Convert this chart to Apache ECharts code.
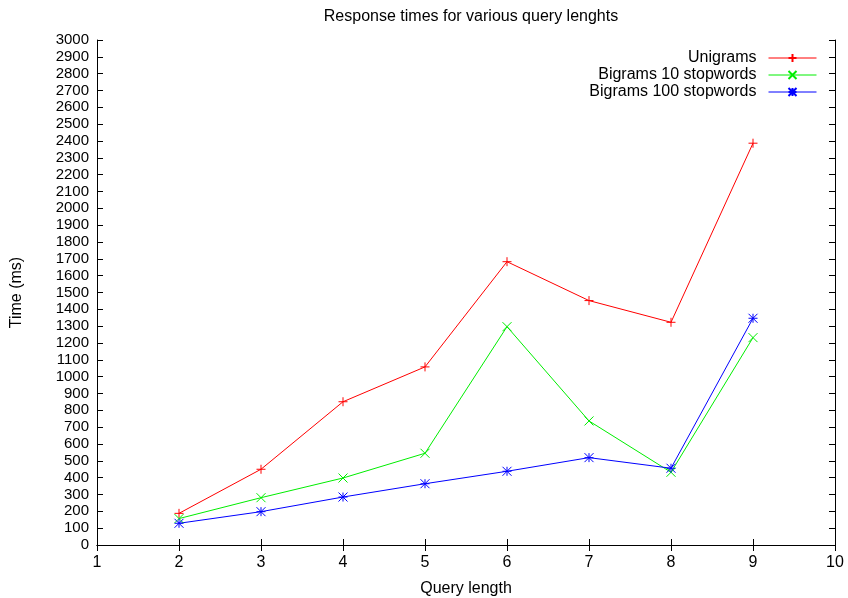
<!DOCTYPE html>
<html>
<head>
<meta charset="utf-8">
<script src="https://cdn.jsdelivr.net/npm/echarts@6/dist/echarts.min.js"></script>
<style>
  html, body { margin: 0; padding: 0; background: #fff; }
  #main { width: 848px; height: 598px; }
</style>
</head>
<body>
<div id="main"></div>
<script>
// query lengths and response times (ms)
const queryLength = [2, 3, 4, 5, 6, 7, 8, 9];
const unigrams = [188, 450, 851, 1058, 1683, 1452, 1323, 2387];
const bigrams10 = [157, 281, 398, 545, 1297, 737, 432, 1232];
const bigrams100 = [129, 198, 285, 364, 438, 519, 456, 1347];
const seriesNames = ['Unigrams', 'Bigrams 10 stopwords', 'Bigrams 100 stopwords'];

const FONT = 'Liberation Sans, Arial, sans-serif';

// gnuplot point types: +, x, *
const plusPath = 'path://M0,5L10,5M5,0L5,10';
const crossPath = 'path://M0,0L10,10M0,10L10,0';
const starPath = 'path://M0,5L10,5M5,0L5,10M0,0L10,10M0,10L10,0';

function pairs(ys) {
    return queryLength.map((x, i) => [x, ys[i]]);
}

function makeSeries(name, ys, color, symbol) {
    return {
        name: name,
        type: 'line',
        data: pairs(ys),
        symbol: symbol,
        symbolSize: 9,
        showAllSymbol: true,
        lineStyle: { color: color, width: 1 },
        itemStyle: { color: 'none', borderColor: color, borderWidth: 1 },
        emphasis: { disabled: true },
        animation: false
    };
}

const chart = echarts.init(document.getElementById('main'), null, { renderer: 'canvas' });

const tickStyle = { show: true, inside: true, length: 6, lineStyle: { color: '#000', width: 1 } };

let option = {
    backgroundColor: '#ffffff',
    animation: false,
    title: {
        text: 'Response times for various query lenghts',
        left: 466,
        textAlign: 'center',
        top: 4,
        textStyle: { fontFamily: FONT, fontSize: 16, fontWeight: 'normal', color: '#000' }
    },
    legend: {
        orient: 'vertical',
        right: 26,
        top: 45,
        align: 'right',
        itemWidth: 48,
        itemHeight: 10,
        itemGap: 1,
        lineStyle: { width: 1 },
        textStyle: { fontFamily: FONT, fontSize: 16, color: '#000', padding: [0, 7, 0, 0] },
        data: seriesNames
    },
    grid: { left: 97, right: 13, top: 40, bottom: 53, containLabel: false, outerBoundsMode: 'none' },
    xAxis: [{
        type: 'value',
        min: 1, max: 10, interval: 1,
        name: 'Query length',
        nameLocation: 'middle',
        nameGap: 36,
        nameTextStyle: { fontFamily: FONT, fontSize: 16, color: '#000' },
        axisLine: { show: true, lineStyle: { color: '#000', width: 1 } },
        axisTick: tickStyle,
        axisLabel: { fontFamily: FONT, fontSize: 16, color: '#000', margin: 10 },
        splitLine: { show: false }
    }, {
        type: 'value',
        position: 'top',
        min: 1, max: 10, interval: 1,
        axisLine: { show: true, lineStyle: { color: '#000', width: 1 } },
        axisTick: tickStyle,
        axisLabel: { show: false },
        splitLine: { show: false }
    }],
    yAxis: [{
        type: 'value',
        min: 0, max: 3000, interval: 100,
        name: 'Time (ms)',
        nameLocation: 'middle',
        nameGap: 72,
        nameTextStyle: { fontFamily: FONT, fontSize: 16, color: '#000' },
        axisLine: { show: true, lineStyle: { color: '#000', width: 1 } },
        axisTick: tickStyle,
        axisLabel: {
            fontFamily: FONT, fontSize: 15, color: '#000', margin: 8,
            formatter: (v) => String(v)
        },
        splitLine: { show: false }
    }, {
        type: 'value',
        position: 'right',
        min: 0, max: 3000, interval: 100,
        axisLine: { show: true, lineStyle: { color: '#000', width: 1 } },
        axisTick: tickStyle,
        axisLabel: { show: false },
        splitLine: { show: false }
    }],
    series: [
        makeSeries(seriesNames[0], unigrams, '#ff0000', plusPath),
        makeSeries(seriesNames[1], bigrams10, '#00ee00', crossPath),
        makeSeries(seriesNames[2], bigrams100, '#0000ff', starPath)
    ]
};

chart.setOption(option);
</script>
</body>
</html>
